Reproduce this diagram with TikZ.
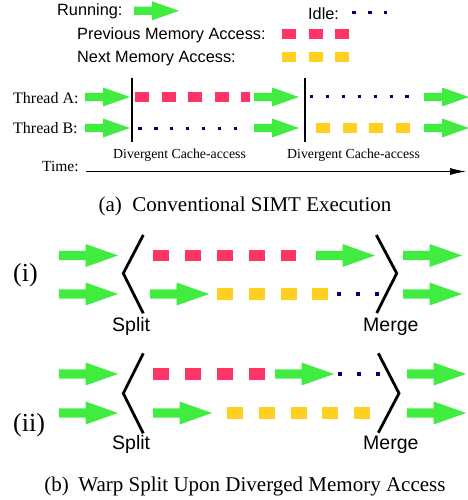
\documentclass[tikz,border=0pt]{standalone}
\usepackage{fontspec}
\setmainfont{Liberation Serif}
\setsansfont{Liberation Sans}
\usetikzlibrary{arrows.meta}

\definecolor{rungreen}{RGB}{64,236,64}
\definecolor{memred}{RGB}{255,51,102}
\definecolor{memyellow}{RGB}{255,208,32}
\definecolor{idlenavy}{RGB}{0,0,120}

\tikzset{
  pics/run/.style={code={\fill[rungreen] (0,-4.2) -- (18,-4.2) -- (18,-9.5) -- (45,0) -- (18,9.5) -- (18,4.2) -- (0,4.2) -- cycle;}},
  pics/bigrun/.style={code={\fill[rungreen] (0,-4.6) -- (26.5,-4.6) -- (26.5,-11.5) -- (59,0) -- (26.5,11.5) -- (26.5,4.6) -- (0,4.6) -- cycle;}},
  prevacc/.style={draw=memred,line width=9.7pt,dash pattern=on 14pt off 12.5pt},
  nextacc/.style={draw=memyellow,line width=9.7pt,dash pattern=on 14pt off 12.7pt},
  idleacc/.style={draw=idlenavy,line width=3.3pt,dash pattern=on 3.3pt off 12.6pt},
  bigprev/.style={draw=memred,line width=11.7pt,dash pattern=on 16pt off 16pt},
  bignext/.style={draw=memyellow,line width=11.7pt,dash pattern=on 16pt off 15.8pt},
  bigidle/.style={draw=idlenavy,line width=3.8pt,dash pattern=on 3.8pt off 15pt},
  sansl/.style={font=\sffamily\fontsize{16.3}{19}\selectfont,anchor=base west,inner sep=0},
  seril/.style={font=\fontsize{16}{19}\selectfont,anchor=base west,inner sep=0},
  cachel/.style={font=\fontsize{13.8}{16}\selectfont,anchor=base west,inner sep=0},
  capl/.style={font=\fontsize{21}{24}\selectfont,anchor=base,inner sep=0},
  casel/.style={font=\fontsize{26}{30}\selectfont,anchor=base west,inner sep=0},
  splitl/.style={font=\sffamily\fontsize{19.5}{22}\selectfont,anchor=base west,inner sep=0},
  bracket/.style={line width=2.8pt,line join=miter},
  divbar/.style={line width=2pt}
}

\begin{document}
\begin{tikzpicture}[x=1pt,y=-1pt]
\useasboundingbox (0,0) rectangle (467,500);

% legend
\node[sansl] (lblrun) at (57,16) {Running:};
\pic at (134,10.8) {run};
\node[sansl] (lblidle) at (308,19.5) {Idle:};
\draw[idleacc] (352.3,12.7) -- (387.7,12.7);
\node[sansl] (lblprev) at (77,40) {Previous Memory Access:};
\draw[prevacc] (282,34) -- (349,34);
\node[sansl] (lblnext) at (77,63) {Next Memory Access:};
\draw[nextacc] (282,57) -- (349,57);

% conventional execution
\node[seril] (thrA) at (13,103.3) {Thread A:};
\node[seril] (thrB) at (13,133.3) {Thread B:};
\foreach \x in {85,254,424} {
  \pic at (\x,97) {run};
  \pic at (\x,128) {run};
}
\draw[divbar] (132,78) -- (132,142);
\draw[divbar] (305,78) -- (305,142);
\draw[prevacc] (135,97) -- (250,97);
\draw[idleacc] (138.3,128.8) -- (236.7,128.8);
\draw[idleacc] (310,96.8) -- (408.5,96.8);
\draw[nextacc] (316,127.7) -- (410,127.7);
\node[cachel] (divA) at (113,158.3) {Divergent Cache-access};
\node[cachel] (divB) at (287,158.3) {Divergent Cache-access};
\node[seril,font=\fontsize{15.5}{18}\selectfont] (timelbl) at (42,171.5) {Time:};
\coordinate (tend) at (466,171.5);
\draw[line width=0.9pt,-{Latex[length=16pt,width=7pt]},shorten <=7pt] (timelbl.base east) -- (tend);
\node[capl] (capa) at (245,211) {(a)\hspace{0.5em}Conventional SIMT Execution};

% warp split (i)
\node[casel] (lbli) at (13,281) {(i)};
\pic at (59,255.5) {bigrun};
\pic at (59,294) {bigrun};
\draw[bracket] (143.3,235) -- (123.3,273.3) -- (143.3,313.3);
\draw[bigprev] (153,255.5) -- (296,255.5);
\pic at (316,255.5) {bigrun};
\pic at (150,294) {bigrun};
\draw[bignext] (217,294) -- (329,294);
\draw[bigidle] (337.4,294) -- (378.6,294);
\draw[bracket] (376.3,235) -- (396.7,273.3) -- (376.7,313);
\pic at (403,255.5) {bigrun};
\pic at (403,294) {bigrun};
\node[splitl] (spliti) at (112,331.5) {Split};
\node[splitl] (mergei) at (363,331.5) {Merge};

% warp split (ii)
\node[casel] (lblii) at (13,431) {(ii)};
\pic at (59,374) {bigrun};
\pic at (59,413) {bigrun};
\draw[bracket] (143.3,353.3) -- (123.3,393.3) -- (143.3,433.3);
\draw[bigprev] (153,374) -- (265,374);
\pic at (275,374) {bigrun};
\draw[bigidle] (338.3,374) -- (380,374);
\pic at (153,413) {bigrun};
\draw[bignext] (227,413) -- (370,413);
\draw[bracket] (378.3,353.3) -- (399,393.3) -- (378.3,432.7);
\pic at (407,374) {bigrun};
\pic at (407,413) {bigrun};
\node[splitl] (splitii) at (112,449) {Split};
\node[splitl] (mergeii) at (363,449) {Merge};

\node[capl] (capb) at (245,491) {(b)\hspace{0.45em}Warp Split Upon Diverged Memory Access};
\end{tikzpicture}
\end{document}
